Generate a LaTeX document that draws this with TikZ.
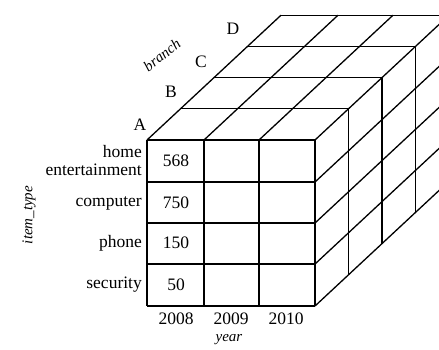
\documentclass[tikz,border=0pt]{standalone}
\usepackage{fontspec}
\setmainfont{Liberation Serif}
\begin{document}
\begin{tikzpicture}[x=1pt,y=-1pt,
  gridline/.style={line width=1.3pt,black},
  lbl/.style={font=\fontsize{17.5}{19}\selectfont,inner sep=0pt},
  axislbl/.style={font=\fontsize{15}{17}\selectfont\itshape,inner sep=0pt}]
\useasboundingbox (0,0) rectangle (439,349);
\begin{scope}
\clip (0,0) rectangle (439,349);
\def\dx{33.5}
\def\dy{-31.2}
% front face
\foreach \x in {147,204,259,315} \draw[gridline] (\x,140) -- (\x,306);
\foreach \y in {140,182,223,264,306} \draw[gridline] (147,\y) -- (315,\y);
% top face
\foreach \k in {1,2,3,4} \draw[gridline] (147+\k*\dx,140+\k*\dy) -- (315+\k*\dx,140+\k*\dy);
\foreach \x in {147,204,259,315} \draw[gridline] (\x,140) -- (\x+4*\dx,140+4*\dy);
% right face
\foreach \k in {1,2,3,4} \draw[gridline] (315+\k*\dx,140+\k*\dy) -- (315+\k*\dx,306+\k*\dy);
\foreach \y in {182,223,264,306} \draw[gridline] (315,\y) -- (315+4*\dx,\y+4*\dy);
\end{scope}
% depth labels
\node[lbl] (A) at (140,125) {A};
\node[lbl] (B) at (171,92) {B};
\node[lbl] (C) at (201,62) {C};
\node[lbl] (D) at (233,29) {D};
\node[axislbl,rotate=38] (branch) at (162,55) {branch};
% row labels
\node[lbl,anchor=east] (home) at (142,152) {home};
\node[lbl,anchor=east] (ent) at (142,170) {entertainment};
\node[lbl,anchor=east] (comp) at (142,203) {computer};
\node[lbl,anchor=east] (phone) at (142,243) {phone};
\node[lbl,anchor=east] (sec) at (142,285) {security};
\node[axislbl,rotate=90] (itemtype) at (29,215) {item\_type};
% values
\node[lbl] (v1) at (176,161) {568};
\node[lbl] (v2) at (176,203) {750};
\node[lbl] (v3) at (176,243) {150};
\node[lbl] (v4) at (176,285) {50};
% years
\node[lbl] (y1) at (176,319) {2008};
\node[lbl] (y2) at (231,319) {2009};
\node[lbl] (y3) at (286,319) {2010};
\node[axislbl] (year) at (229,340) {year};
\end{tikzpicture}
\end{document}
